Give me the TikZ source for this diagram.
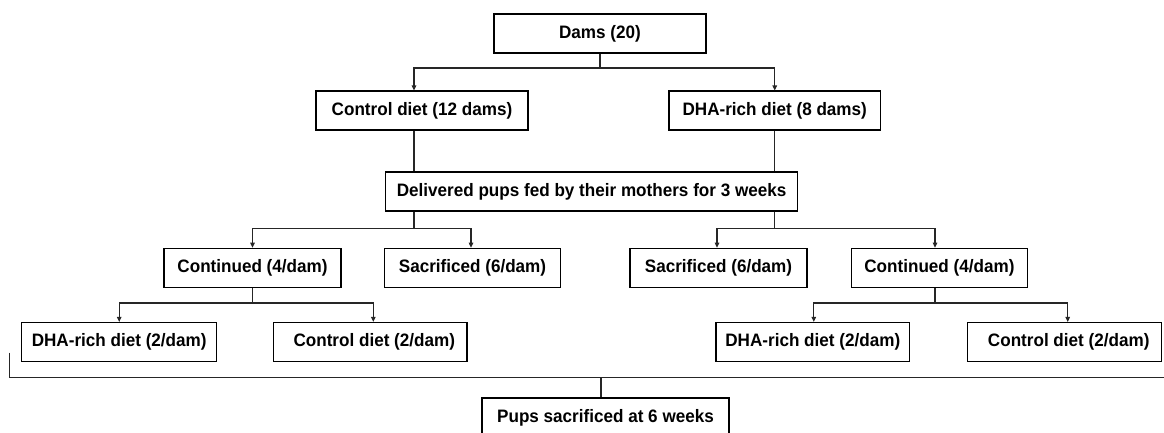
\documentclass[tikz,border=0pt]{standalone}
\usepackage{fontspec}
\setmainfont{Liberation Sans}[FakeStretch=0.95]
\usetikzlibrary{arrows.meta}
\begin{document}
\begin{tikzpicture}[x=1pt,y=-1pt,
  box/.style={draw=black,line width=1.1pt,minimum height=39pt,inner sep=0pt,
    font=\fontsize{18}{21}\selectfont\bfseries},
  conn/.style={draw=black!85,line width=1.1pt},
  arr/.style={conn,-{Triangle[length=5pt,width=4.5pt]}}]
\useasboundingbox (0,0) rectangle (1164,432);
\clip (0,0) rectangle (1164,432);
% nodes
\node[box,minimum width=212pt] (dams) at (600,33.5) {Dams (20)};
\node[box,minimum width=212pt] (ctrl) at (422,110.5) {Control diet (12 dams)};
\node[box,minimum width=211.5pt] (dha) at (774.75,110.5) {DHA-rich diet (8 dams)};
\node[box,minimum width=412pt] (deliv) at (591.6,191.5) {Delivered pups fed by their mothers for 3 weeks};
\node[box,minimum width=177pt] (contL) at (252.5,267.7) {Continued (4/dam)};
\node[box,minimum width=176.4pt] (sacL) at (472.5,267.7) {Sacrificed (6/dam)};
\node[box,minimum width=177pt] (sacR) at (718.5,267.7) {Sacrificed (6/dam)};
\node[box,minimum width=176.7pt] (contR) at (939.4,267.7) {Continued (4/dam)};
\node[box,minimum width=195pt] (dhaL) at (119.2,342) {DHA-rich diet (2/dam)};
\node[box,minimum width=193.3pt] (ctlL) at (370.3,342) {\hspace*{8pt}Control diet (2/dam)};
\node[box,minimum width=193.6pt] (dhaR) at (812.8,342) {DHA-rich diet (2/dam)};
\node[box,minimum width=194pt] (ctlR) at (1064.7,342) {\hspace*{8pt}Control diet (2/dam)};
\node[box,minimum width=247pt,minimum height=40pt] (pups) at (605.5,418) {Pups sacrificed at 6 weeks};
% level 1
\draw[conn] (dams.south) -- (dams.south |- 0,68) coordinate (j1);
\draw[arr] (j1) -| ([xshift=-8pt]ctrl.north);
\draw[arr] (j1) -| (dha.north);
% to delivered
\draw[conn] ([xshift=-8pt]ctrl.south) -- ([xshift=-8pt]ctrl.south |- deliv.north);
\draw[conn] (dha.south) -- (dha.south |- deliv.north);
% level 3
\draw[conn] ([xshift=-8pt]ctrl.south |- deliv.south) -- ([xshift=-8pt]ctrl.south |- 0,228.7) coordinate (j2);
\draw[arr] (j2) -| (contL.north);
\draw[arr] (j2) -| ([xshift=-1.5pt]sacL.north);
\draw[conn] (dha.south |- deliv.south) -- (dha.south |- 0,228.7) coordinate (j3);
\draw[arr] (j3) -| ([xshift=-1.5pt]sacR.north);
\draw[arr] (j3) -| ([xshift=-4.4pt]contR.north);
% level 4
\draw[conn] (contL.south) -- (contL.south |- 0,303) coordinate (j4);
\draw[arr] (j4) -| (dhaL.north);
\draw[arr] (j4) -| ([xshift=3pt]ctlL.north);
\draw[conn] ([xshift=-4.4pt]contR.south) -- ([xshift=-4.4pt]contR.south |- 0,303) coordinate (j5);
\draw[arr] (j5) -| ([xshift=1pt]dhaR.north);
\draw[arr] (j5) -| ([xshift=3pt]ctlR.north);
% bracket
\coordinate (bl) at (9.3,352.7);
\coordinate (br) at (1170,377.5);
\coordinate (bm) at ([xshift=-4.5pt]pups.north |- 0,377.5);
\draw[conn] (bl) |- (br);
\draw[conn] (bm) -- ([xshift=-4.5pt]pups.north);
\end{tikzpicture}
\end{document}
